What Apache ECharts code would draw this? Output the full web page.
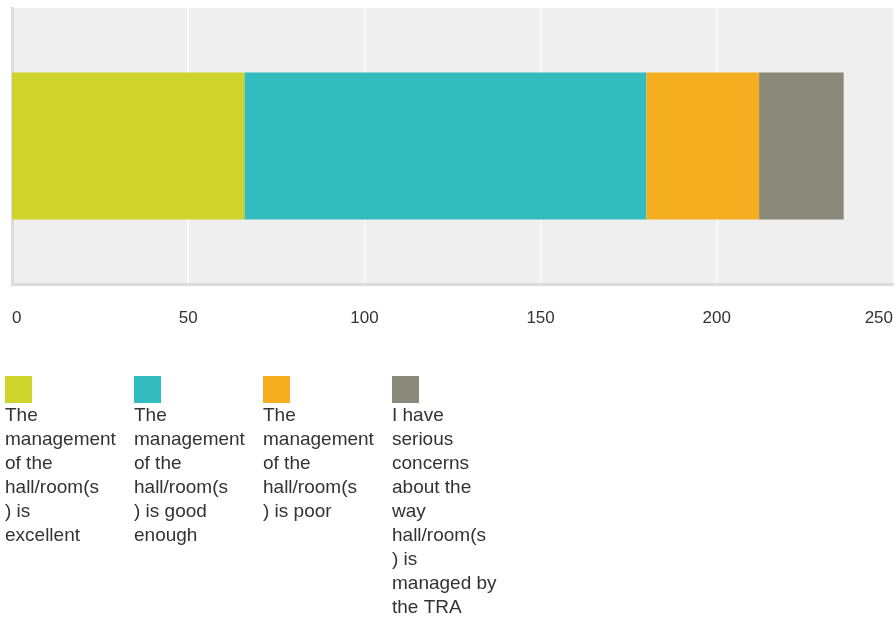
<!DOCTYPE html>
<html>
<head>
<meta charset="utf-8">
<title>Hall/room management</title>
<script src="https://cdn.jsdelivr.net/npm/echarts@6/dist/echarts.min.js"></script>
<style>
  html, body { margin: 0; padding: 0; background: #ffffff; }
  #chart { width: 896px; height: 623px; }
</style>
</head>
<body>
<div id="chart"></div>
<script>
// Responses, one stacked segment each
const seriesNames = [
  'The management of the hall/room(s) is excellent',
  'The management of the hall/room(s) is good enough',
  'The management of the hall/room(s) is poor',
  'I have serious concerns about the way hall/room(s) is managed by the TRA'
];
const legendLines = [
  ['The', 'management', 'of the', 'hall/room(s', ') is', 'excellent'],
  ['The', 'management', 'of the', 'hall/room(s', ') is good', 'enough'],
  ['The', 'management', 'of the', 'hall/room(s', ') is poor'],
  ['I have', 'serious', 'concerns', 'about the', 'way', 'hall/room(s', ') is', 'managed by', 'the TRA']
];
const values = [66, 114, 32, 24];
const colors = ['#cfd42a', '#33bcbe', '#f5ae20', '#8a8a7a'];
const axisMin = 0;
const axisMax = 250;
const axisStep = 50;

const FONT = '"Liberation Sans", Arial, sans-serif';
const legendLeft = [5, 134, 263, 392];

const chart = echarts.init(document.getElementById('chart'), null, { renderer: 'canvas' });

const series = seriesNames.map((name, i) => ({
  name: name,
  type: 'bar',
  stack: 'total',
  barWidth: 147,
  itemStyle: { color: colors[i] },
  emphasis: { disabled: true },
  data: [values[i]]
}));

// icon-only legend entries; their wrapped captions are drawn below each square
const legends = seriesNames.map((name, i) => ({
  data: [name],
  left: legendLeft[i],
  top: 376,
  padding: 0,
  itemGap: 0,
  itemWidth: 27,
  itemHeight: 27,
  icon: 'rect',
  selectedMode: false,
  formatter: () => '',
  textStyle: { fontSize: 1 }
}));

const captions = legendLines.map((lines, i) => ({
  type: 'text',
  left: legendLeft[i],
  top: 404,
  style: {
    text: lines.join('\n'),
    font: '19px ' + FONT,
    lineHeight: 24,
    fill: '#333333'
  }
}));

chart.setOption({
  animation: false,
  backgroundColor: '#ffffff',
  grid: {
    left: 12,
    right: 0,
    top: 8,
    bottom: 339,
    show: true,
    backgroundColor: '#efefef',
    borderWidth: 0
  },
  xAxis: {
    type: 'value',
    min: axisMin,
    max: axisMax,
    interval: axisStep,
    axisLine: { show: true, lineStyle: { color: '#dcdcdc', width: 3 } },
    axisTick: { show: false },
    splitLine: { show: true, showMinLine: false, showMaxLine: false, lineStyle: { color: '#fafafa', width: 2 } },
    axisLabel: {
      color: '#333333',
      fontFamily: FONT,
      fontSize: 17,
      margin: 26,
      alignMinLabel: 'left',
      alignMaxLabel: 'right'
    }
  },
  yAxis: {
    type: 'category',
    data: [''],
    axisLine: { show: true, lineStyle: { color: '#dcdcdc', width: 3 } },
    axisTick: { show: false },
    axisLabel: { show: false },
    splitLine: { show: false }
  },
  legend: legends,
  graphic: captions,
  series: series
});
</script>
</body>
</html>
